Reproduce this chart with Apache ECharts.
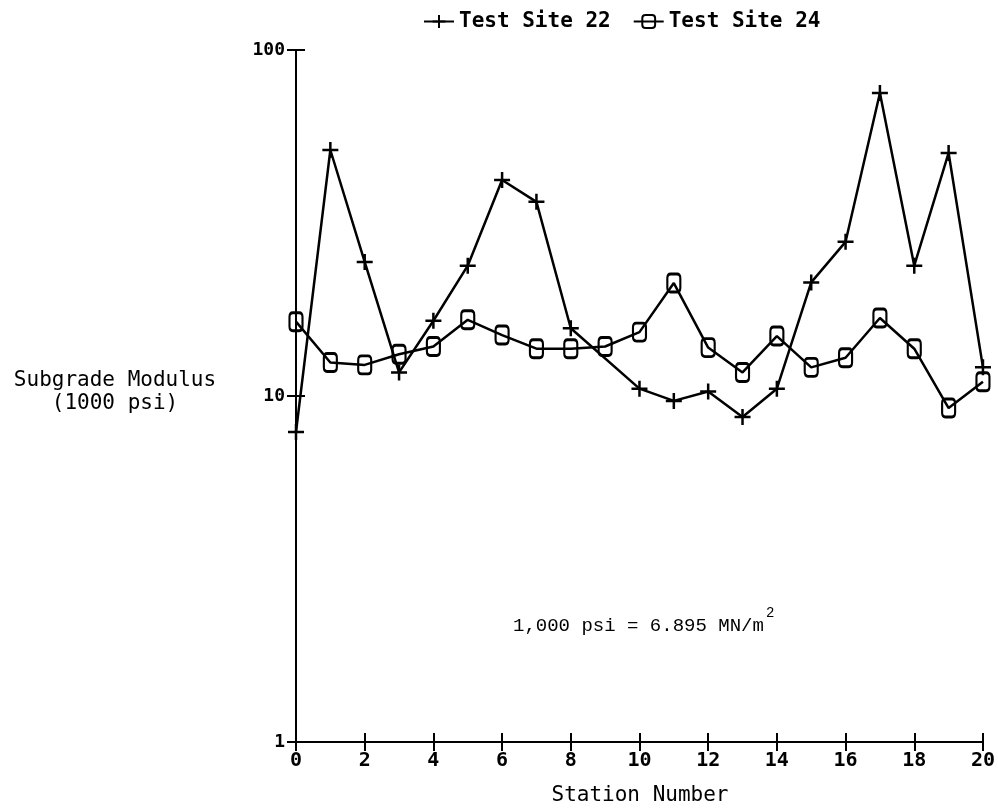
<!DOCTYPE html>
<html>
<head>
<meta charset="utf-8">
<script src="https://cdn.jsdelivr.net/npm/echarts@6/dist/echarts.min.js"></script>
<style>
html,body{margin:0;padding:0;background:#fff;}
#chart{width:998px;height:808px;}
</style>
</head>
<body>
<div id="chart"></div>
<script>
var stations = [0,1,2,3,4,5,6,7,8,9,10,11,12,13,14,15,16,17,18,19,20];
var site22 = [7.87,51.4,24.4,11.7,16.5,23.8,42.1,36.4,15.7,null,10.5,9.68,10.3,8.70,10.5,21.3,27.9,75.1,23.8,50.4,12.1];
var site24 = [16.4,12.5,12.3,13.2,13.9,16.6,15.0,13.7,13.7,13.9,15.3,21.2,13.8,11.7,14.9,12.1,12.9,16.8,13.7,9.23,11.0];
var seriesNames = ['Test Site 22','Test Site 24'];
var xTitle = 'Station Number';
var yTitle = ['Subgrade Modulus','(1000 psi)'];
var note = '1,000 psi = 6.895 MN/m';

function pairs(vals){ return stations.map(function(s,i){ return [s, vals[i]]; }); }

var FONT = 'DejaVu Sans Mono';
var chart = echarts.init(document.getElementById('chart'));
var plusSym = 'path://M0,7 L14,7 M7,0 L7,14';
var ohSym = 'path://M3,0 L9,0 Q12,0 12,4 L12,13 Q12,17 9,17 L3,17 Q0,17 0,13 L0,4 Q0,0 3,0 Z';

var baseX = {type:'value', min:0, max:20, interval:2, gridIndex:0, position:'bottom',
  splitLine:{show:false}, axisLine:{lineStyle:{color:'#000',width:2}}};
var baseY = {type:'log', logBase:10, min:1, max:100, gridIndex:0, position:'left',
  splitLine:{show:false}, minorTick:{show:false}, axisLine:{lineStyle:{color:'#000',width:2}}};

chart.setOption({
  animation:false,
  backgroundColor:'#fff',
  grid:{left:296, right:13, top:50, bottom:66, containLabel:false},
  legend:{
    left:418, top:6, itemWidth:30, itemHeight:16, itemGap:22,
    textStyle:{fontFamily:FONT, fontSize:21, fontWeight:'bold', color:'#000'},
    data:seriesNames
  },
  xAxis:[
    Object.assign({}, baseX, {
      axisTick:{show:true, length:9, lineStyle:{color:'#000',width:2}},
      axisLabel:{fontFamily:FONT, fontSize:20, fontWeight:'bold', color:'#000', margin:9}
    }),
    Object.assign({}, baseX, {
      axisLine:{show:false},
      axisTick:{show:true, inside:true, length:9, lineStyle:{color:'#000',width:2}},
      axisLabel:{show:false}
    })
  ],
  yAxis:[
    Object.assign({}, baseY, {
      axisTick:{show:true, length:9, lineStyle:{color:'#000',width:2}},
      axisLabel:{fontFamily:FONT, fontSize:18, fontWeight:'bold', color:'#000', margin:11}
    }),
    Object.assign({}, baseY, {
      axisLine:{show:false},
      axisTick:{show:true, inside:true, length:9, lineStyle:{color:'#000',width:2}},
      axisLabel:{show:false}
    })
  ],
  series:[
    {
      name:seriesNames[0], type:'line', xAxisIndex:0, yAxisIndex:0,
      data:pairs(site22), connectNulls:true,
      symbol:plusSym, symbolSize:[16,16], showSymbol:true,
      lineStyle:{color:'#000', width:2.5},
      itemStyle:{color:'rgba(0,0,0,0)', borderColor:'#000', borderWidth:2.5},
      emphasis:{disabled:true}
    },
    {
      name:seriesNames[1], type:'line', xAxisIndex:0, yAxisIndex:0,
      data:pairs(site24),
      symbol:ohSym, symbolSize:[13,18], showSymbol:true,
      lineStyle:{color:'#000', width:2.5},
      itemStyle:{color:'rgba(0,0,0,0)', borderColor:'#000', borderWidth:2.5},
      emphasis:{disabled:true}
    }
  ],
  graphic:[
    {type:'text', x:115, y:381, style:{text:yTitle[0], font:'21px "'+FONT+'"', fill:'#000', textAlign:'center', textVerticalAlign:'middle'}},
    {type:'text', x:115, y:404, style:{text:yTitle[1], font:'21px "'+FONT+'"', fill:'#000', textAlign:'center', textVerticalAlign:'middle'}},
    {type:'text', x:640, y:796, style:{text:xTitle, font:'21px "'+FONT+'"', fill:'#000', textAlign:'center', textVerticalAlign:'middle'}},
    {type:'text', x:513, y:626, style:{text:note, font:'19px "Liberation Mono"', fill:'#000', textAlign:'left', textVerticalAlign:'middle'}},
    {type:'text', x:766, y:613, style:{text:'2', font:'14px "Liberation Mono"', fill:'#000', textAlign:'left', textVerticalAlign:'middle'}}
  ]
});
</script>
</body>
</html>
